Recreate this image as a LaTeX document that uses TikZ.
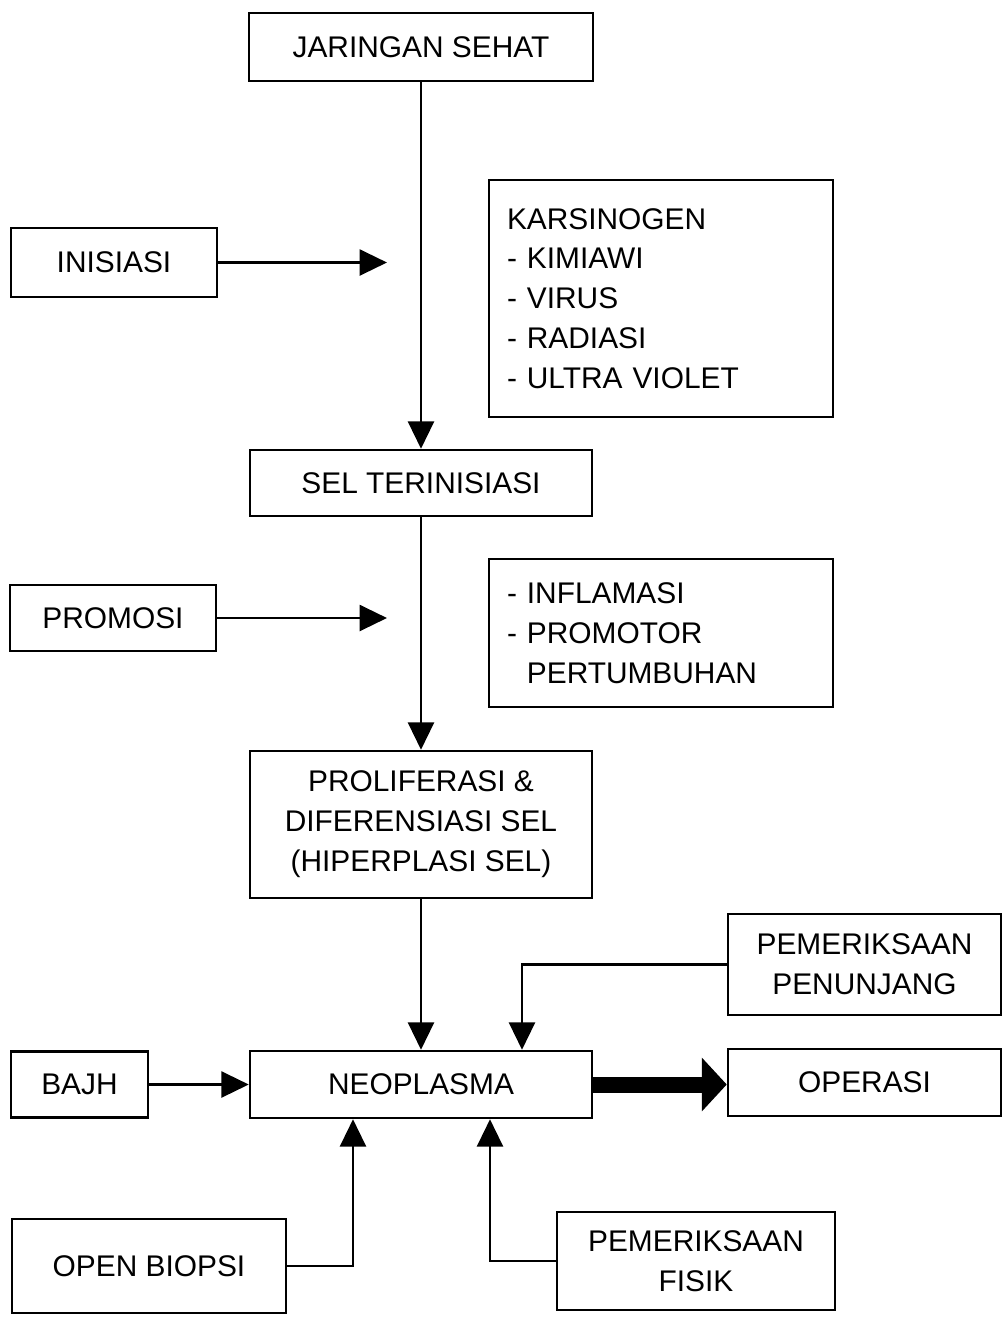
\documentclass[tikz,border=0pt]{standalone}
\usepackage{fontspec}
\setmainfont{Liberation Sans}
\usepackage{tikz}
\usetikzlibrary{arrows.meta}
\tikzstyle{box} = [rectangle, draw=black, line width=1.4pt, align=center, font=\fontsize{17}{22.7}\selectfont, inner sep=0pt]
\tikzstyle{listbox} = [rectangle, draw=black, line width=1.4pt, align=left, font=\fontsize{17}{22.7}\selectfont, inner sep=0pt]
\tikzstyle{arrow} = [line width=1.6pt, -{Triangle[length=0.55cm,width=0.52cm]}]
\tikzstyle{bigarrow} = [line width=0.32cm, -{Triangle[length=0.5cm,width=1.05cm]}]

\begin{document}
\begin{tikzpicture}
        \useasboundingbox (0,0) rectangle (20.06,-26.34);

        \draw (8.42,-0.94) node[box, minimum width=6.88cm, minimum height=1.36cm] (jar) {JARINGAN SEHAT};
        \draw (2.28,-5.25) node[box, minimum width=4.12cm, minimum height=1.38cm] (ini) {INISIASI};
        \draw (13.22,-5.97) node[listbox, minimum width=6.88cm, minimum height=4.74cm, text width=6.16cm] (kar)
        {KARSINOGEN\\- KIMIAWI\\- VIRUS\\- RADIASI\\- ULTRA VIOLET};
        \draw (8.42,-9.66) node[box, minimum width=6.84cm, minimum height=1.32cm] (sel) {SEL TERINISIASI};
        \draw (2.26,-12.36) node[box, minimum width=4.12cm, minimum height=1.32cm] (pro) {PROMOSI};
        \draw (13.22,-12.66) node[listbox, minimum width=6.88cm, minimum height=2.96cm, text width=6.16cm] (inf)
        {- INFLAMASI\\- PROMOTOR\\\phantom{- }PERTUMBUHAN};
        \draw (8.42,-16.49) node[box, minimum width=6.84cm, minimum height=2.94cm] (pol)
        {PROLIFERASI \&\\DIFERENSIASI SEL\\(HIPERPLASI SEL)};
        \draw (17.29,-19.29) node[box, minimum width=5.46cm, minimum height=2.02cm] (pnj) {PEMERIKSAAN\\PENUNJANG};
        \draw (8.42,-21.69) node[box, minimum width=6.84cm, minimum height=1.34cm] (neo) {NEOPLASMA};
        \draw (1.59,-21.69) node[box, minimum width=2.74cm, minimum height=1.32cm] (baj) {BAJH};
        \draw (17.29,-21.65) node[box, minimum width=5.46cm, minimum height=1.34cm] (ops) {OPERASI};
        \draw (2.98,-25.32) node[box, minimum width=5.48cm, minimum height=1.88cm] (bio) {OPEN BIOPSI};
        \draw (13.92,-25.22) node[box, minimum width=5.56cm, minimum height=1.96cm] (fis) {PEMERIKSAAN\\FISIK};

        \coordinate (iniend) at (7.74,-5.25);
        \coordinate (proend) at (7.74,-12.36);

        % Arrows
        \draw[arrow] (jar) -- (sel);
        \draw[arrow] (sel) -- (pol);
        \draw[arrow] (pol) -- (neo);
        \draw[arrow] (ini) -- (iniend);
        \draw[arrow] (pro) -- (proend);
        \draw[arrow] (baj) -- (neo);
        \draw[bigarrow] (neo.east) -- (neo.east -| ops.west);

        \draw[arrow] (pnj.west) -| ([xshift=2.02cm]neo.north);
        \draw[arrow] (bio.east) -| ([xshift=-1.36cm]neo.south);
        \draw[arrow] (fis.west) -| ([xshift=1.38cm]neo.south);
    \end{tikzpicture}
\end{document}
